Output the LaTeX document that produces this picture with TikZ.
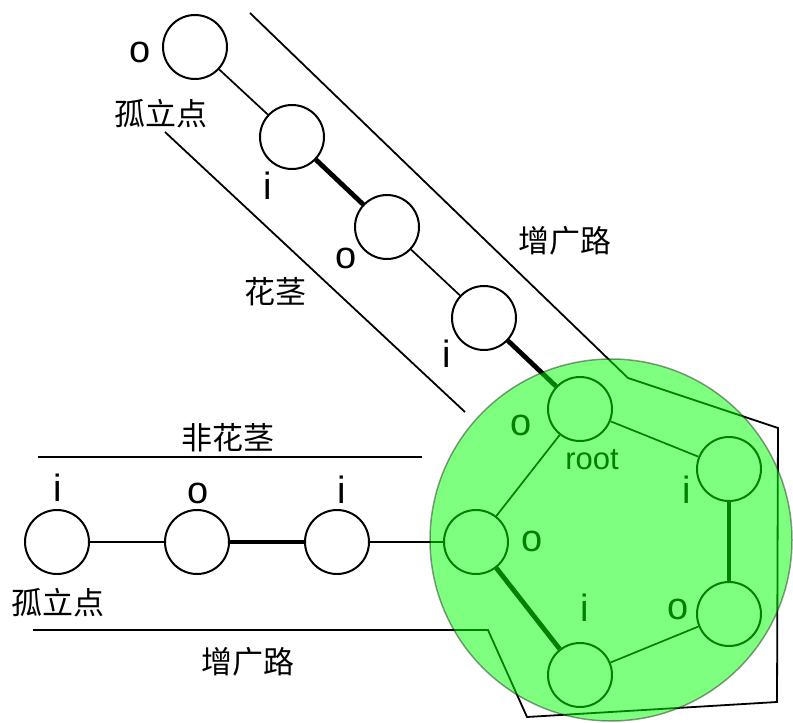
\documentclass[tikz,border=0pt]{standalone}
\usepackage{fontspec}
\setmainfont{Liberation Sans}
\newfontfamily\cjk{Noto Sans CJK SC}
\begin{document}
\begin{tikzpicture}[x=1pt,y=-1pt,
  vtx/.style={circle,draw=black,fill=white,line width=2pt,minimum size=64pt,inner sep=0pt},
  thin/.style={line width=1.7pt},
  thick/.style={line width=4.8pt},
  bnd/.style={line width=1.8pt},
  lab/.style={inner sep=0pt,font=\fontsize{38}{42}\selectfont},
  cjklab/.style={inner sep=0pt,font=\cjk\fontsize{31}{34}\selectfont},
  rootlab/.style={inner sep=0pt,font=\fontsize{31}{34}\selectfont}]
\useasboundingbox (0,0) rectangle (793,723);
% boundary lines
\coordinate (u1) at (250,13);
\coordinate (u2) at (628,378);
\coordinate (u3) at (778,428);
\coordinate (u4) at (777,702);
\coordinate (u5) at (527,717);
\coordinate (u6) at (488,630);
\coordinate (u7) at (33,630);
\draw[bnd,line join=miter] (u1) -- (u2) -- (u3) -- (u4) -- (u5) -- (u6) -- (u7);
\coordinate (s1) at (165,132);
\coordinate (s2) at (465,412);
\draw[bnd] (s1) -- (s2);
\coordinate (n1) at (38,457);
\coordinate (n2) at (422,457);
\draw[bnd] (n1) -- (n2);
% nodes
\node[vtx] (a1) at (195,47) {};
\node[vtx] (a2) at (292,137) {};
\node[vtx] (a3) at (387,227) {};
\node[vtx] (a4) at (484,318) {};
\node[vtx] (root) at (580,409) {};
\node[vtx] (rt) at (729,469) {};
\node[vtx] (rb) at (729,614) {};
\node[vtx] (bot) at (580,675) {};
\node[vtx] (lf) at (476,542) {};
\node[vtx] (b1) at (57,542) {};
\node[vtx] (b2) at (197,542) {};
\node[vtx] (b3) at (337,542) {};
% edges
\draw[thin] (a1) -- (a2);
\draw[thick] (a2) -- (a3);
\draw[thin] (a3) -- (a4);
\draw[thick] (a4) -- (root);
\draw[thin] (root) -- (rt);
\draw[thick] (rt) -- (rb);
\draw[thin] (rb) -- (bot);
\draw[thick] (bot) -- (lf);
\draw[thin] (lf) -- (root);
\draw[thin] (b1) -- (b2);
\draw[thick] (b2) -- (b3);
\draw[thin] (b3) -- (lf);
% labels
\node[lab] (la1) at (140,52) {o};
\node[cjklab] (ga) at (161,114) {孤立点};
\node[lab] (la2) at (268,186) {i};
\node[lab] (la3) at (346,258) {o};
\node[cjklab] (hj) at (275,292) {花茎};
\node[lab] (la4) at (447,354) {i};
\node[cjklab] (zg1) at (565,241) {增广路};
\node[cjklab] (fhj) at (228,438) {非花茎};
\node[lab] (lb1) at (58,488) {i};
\node[lab] (lb2) at (198,493) {o};
\node[lab] (lb3) at (342,490) {i};
\node[cjklab] (gb) at (58,603) {孤立点};
\node[cjklab] (zg2) at (248,662) {增广路};
\node[lab] (lr) at (521,425) {o};
\node[rootlab] (lroot) at (592,460) {root};
\node[lab] (lrt) at (687,490) {i};
\node[lab] (llf) at (532,541) {o};
\node[lab] (lbot) at (585,608) {i};
\node[lab] (lrb) at (678,609) {o};
% blossom overlay
\node[circle,minimum size=362pt,inner sep=0pt,fill={rgb,255:red,0;green,255;blue,0},fill opacity=0.5,draw=black,draw opacity=0.4,line width=1.5pt] (blossom) at (611,540) {};
\end{tikzpicture}
\end{document}
